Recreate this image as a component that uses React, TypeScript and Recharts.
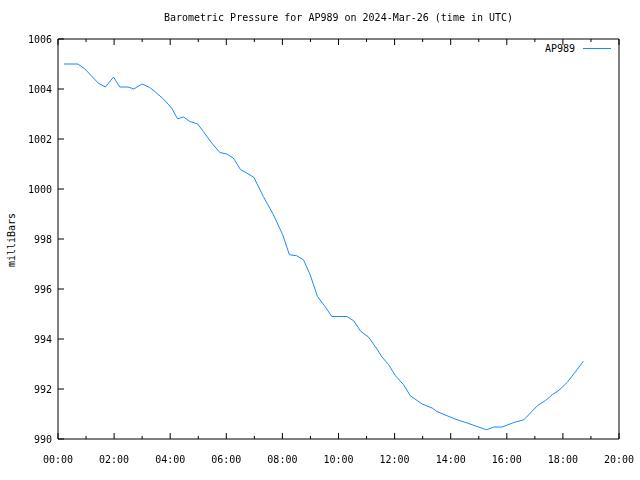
import React from "react";
import { LineChart, Line, XAxis, YAxis } from "recharts";

// hours since 00:00 UTC
const hours = [
  0.21, 0.71, 0.95, 1.13, 1.43, 1.69, 1.98, 2.2, 2.5, 2.7, 3.0, 3.27, 3.45, 3.75, 4.05, 4.26, 4.48, 4.7,
  4.98, 5.18, 5.48, 5.77, 6.01, 6.25, 6.51, 6.73, 6.98, 7.32, 7.68, 8.01, 8.25, 8.51, 8.75, 8.99, 9.25,
  9.52, 9.76, 10.3, 10.54, 10.8, 11.07, 11.37, 11.55, 11.79, 12.03, 12.32, 12.56, 12.98, 13.34, 13.51,
  13.87, 14.23, 14.59, 14.94, 15.28, 15.54, 15.84, 16.25, 16.61, 17.09, 17.38, 17.62, 17.86, 18.16,
  18.46, 18.73,
];
const pressure = [
  1005.0, 1005.0, 1004.81, 1004.6, 1004.24, 1004.08, 1004.48, 1004.08, 1004.08, 1004.0, 1004.2, 1004.06,
  1003.9, 1003.61, 1003.24, 1002.81, 1002.88, 1002.7, 1002.6, 1002.3, 1001.84, 1001.46, 1001.4, 1001.24,
  1000.77, 1000.64, 1000.47, 999.7, 998.97, 998.17, 997.37, 997.33, 997.17, 996.57, 995.7, 995.3, 994.9,
  994.9, 994.73, 994.3, 994.08, 993.6, 993.28, 992.97, 992.53, 992.17, 991.73, 991.4, 991.24, 991.1,
  990.93, 990.77, 990.64, 990.5, 990.37, 990.48, 990.48, 990.66, 990.77, 991.33, 991.54, 991.77, 991.95,
  992.27, 992.71, 993.11,
];
const xTicks = [0, 1, 2, 3, 4, 5, 6, 7, 8, 9, 10, 11, 12, 13, 14, 15, 16, 17, 18, 19, 20];
const yTicks = [990, 992, 994, 996, 998, 1000, 1002, 1004, 1006];

const data = hours.map((h, i) => ({ t: h, p: pressure[i] }));

const font = "'DejaVu Sans Mono', monospace";
const fmtHour = (h: number) => (h < 10 ? "0" + h : "" + h) + ":00";

const BottomTick = (props: any) => {
  const { x, y, payload } = props;
  const major = payload.value % 2 === 0;
  return (
    <g>
      <line x1={x} x2={x} y1={y} y2={y - (major ? 6 : 3)} stroke="#000" />
      {major && (
        <text x={x} y={y + 24} textAnchor="middle" fontFamily={font} fontSize={10} fill="#000">
          {fmtHour(payload.value)}
        </text>
      )}
    </g>
  );
};

const TopTick = (props: any) => {
  const { x, y, payload } = props;
  const major = payload.value % 2 === 0;
  return <line x1={x} x2={x} y1={y} y2={y + (major ? 6 : 3)} stroke="#000" />;
};

const LeftTick = (props: any) => {
  const { x, y, payload } = props;
  return (
    <g>
      <line x1={x} x2={x + 6} y1={y} y2={y} stroke="#000" />
      <text x={x - 6} y={y + 4} textAnchor="end" fontFamily={font} fontSize={10} fill="#000">
        {payload.value}
      </text>
    </g>
  );
};

const RightTick = (props: any) => {
  const { x, y } = props;
  return <line x1={x} x2={x - 6} y1={y} y2={y} stroke="#000" />;
};

export default function App() {
  return (
    <div style={{ position: "fixed", top: 0, left: 0, width: 640, height: 480, background: "#fff", fontFamily: font }}>
      <div style={{ position: "absolute", top: 12, left: 0, width: 677, textAlign: "center", fontSize: 10, color: "#000" }}>
        Barometric Pressure for AP989 on 2024-Mar-26 (time in UTC)
      </div>
      <div
        style={{
          position: "absolute",
          left: 11,
          top: 240,
          transform: "translate(-50%, -50%) rotate(-90deg)",
          fontSize: 10,
          color: "#000",
          whiteSpace: "nowrap",
        }}
      >
        milliBars
      </div>
      <div style={{ position: "absolute", top: 43, left: 480, width: 95, textAlign: "right", fontSize: 10, color: "#000" }}>
        AP989
      </div>
      <div style={{ position: "absolute", top: 48, left: 583, width: 28, height: 1, background: "#1a88ff" }} />
      <LineChart width={640} height={480} data={data} margin={{ top: 38, right: 0, bottom: 0, left: 0 }}>
        <XAxis
          xAxisId="b"
          dataKey="t"
          type="number"
          domain={[0, 20]}
          ticks={xTicks}
          interval={0}
          height={41}
          tickSize={0}
          tickMargin={0}
          tickLine={false}
          tick={<BottomTick />}
          axisLine={{ stroke: "#000" }}
        />
        <XAxis
          xAxisId="t"
          orientation="top"
          dataKey="t"
          type="number"
          domain={[0, 20]}
          ticks={xTicks}
          interval={0}
          height={1}
          tickSize={0}
          tickMargin={0}
          tickLine={false}
          tick={<TopTick />}
          axisLine={{ stroke: "#000" }}
        />
        <YAxis
          yAxisId="l"
          type="number"
          domain={[990, 1006]}
          ticks={yTicks}
          interval={0}
          width={58}
          tickSize={0}
          tickMargin={0}
          tickLine={false}
          tick={<LeftTick />}
          axisLine={{ stroke: "#000" }}
        />
        <YAxis
          yAxisId="r"
          orientation="right"
          type="number"
          domain={[990, 1006]}
          ticks={yTicks}
          interval={0}
          width={21}
          tickSize={0}
          tickMargin={0}
          tickLine={false}
          tick={<RightTick />}
          axisLine={{ stroke: "#000" }}
        />
        <Line
          xAxisId="b"
          yAxisId="l"
          type="linear"
          dataKey="p"
          stroke="#1a88ff"
          strokeWidth={1}
          dot={false}
          isAnimationActive={false}
        />
      </LineChart>
    </div>
  );
}
